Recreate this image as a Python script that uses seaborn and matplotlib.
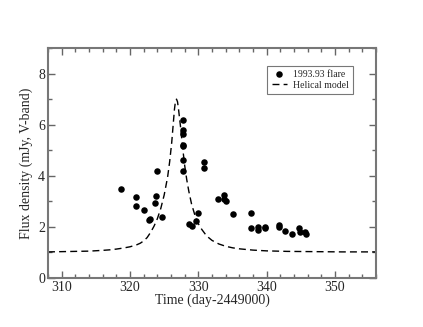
import numpy as np
import pandas as pd
import seaborn as sns
import matplotlib
matplotlib.use("Agg")
import matplotlib.pyplot as plt
from matplotlib.ticker import MultipleLocator

# observed flare points (day-2449000, mJy)
obs_day = [318.7, 320.9, 320.9, 322.0, 322.8, 322.9, 323.8, 323.7, 323.9, 324.7,
           327.7, 327.7, 327.7, 327.7, 327.8, 327.8, 327.8, 328.7, 329.0, 329.7,
           329.9, 330.8, 330.8, 332.9, 333.8, 333.8, 334.0, 335.0, 337.7, 337.7,
           338.7, 338.7, 339.8, 339.8, 341.8, 341.8, 342.7, 343.7, 344.7, 344.8,
           345.6, 345.7]
obs_flux = [3.48, 3.16, 2.80, 2.67, 2.25, 2.31, 3.20, 2.93, 4.19, 2.40,
            6.18, 5.81, 5.63, 5.22, 5.18, 4.61, 4.18, 2.12, 2.03, 2.24,
            2.53, 4.53, 4.29, 3.09, 3.26, 3.09, 3.03, 2.49, 2.56, 1.97,
            1.99, 1.86, 1.99, 1.95, 2.06, 1.98, 1.85, 1.72, 1.97, 1.80,
            1.81, 1.71]

# helical model curve
model_day = [308, 310, 312, 314, 316, 317, 318, 319, 320, 321, 321.5, 322,
             322.5, 323, 323.5, 324, 324.5, 325, 325.5, 325.8, 326.1, 326.3,
             326.5, 326.65, 326.8, 326.95, 327.1, 327.4, 327.7, 328.0, 328.3, 328.6,
             329, 329.5, 330, 330.5, 331, 331.5, 332, 333, 334, 335, 336, 338,
             340, 343, 347, 351, 356]
model_flux = [1.02, 1.03, 1.04, 1.05, 1.08, 1.10, 1.13, 1.17, 1.22, 1.30, 1.36,
              1.45, 1.58, 1.78, 2.02, 2.32, 2.72, 3.25, 3.95, 4.55, 5.3, 5.95,
              6.6, 6.92, 7.0, 6.9, 6.6, 5.9, 5.1, 4.4, 3.85, 3.4,
              2.9, 2.45, 2.12, 1.9, 1.72, 1.58, 1.47, 1.33, 1.24, 1.18, 1.14, 1.09,
              1.06, 1.04, 1.03, 1.02, 1.02]

obs = pd.DataFrame({"day": obs_day, "flux": obs_flux})
model = pd.DataFrame({"day": model_day, "flux": model_flux})

sns.set_style("ticks")
plt.rcParams["font.family"] = ["Liberation Serif", "DejaVu Serif"]

fig = plt.figure(figsize=(4.23, 3.27), dpi=100)
ax = fig.add_axes([0.1135, 0.15, 0.7755, 0.703])

sns.scatterplot(data=obs, x="day", y="flux", ax=ax, color="black", s=22,
                edgecolor="black", linewidth=0, label="1993.93 flare", zorder=3)
sns.lineplot(data=model, x="day", y="flux", ax=ax, color="black", lw=1.0,
             dashes=(5, 3), label="Helical model")

ax.set_xlim(308, 356)
ax.set_ylim(0, 9)
ax.xaxis.set_major_locator(MultipleLocator(10))
ax.xaxis.set_minor_locator(MultipleLocator(2))
ax.yaxis.set_major_locator(MultipleLocator(2))
ax.yaxis.set_minor_locator(MultipleLocator(1))
ax.tick_params(which="both", direction="in", top=True, right=True,
               color="#666666", labelsize=10, pad=2)
ax.tick_params(which="major", length=5, width=1)
ax.tick_params(which="minor", length=3, width=1)
for sp in ax.spines.values():
    sp.set_color("#777777")
    sp.set_linewidth(1.5)

ax.set_xlabel("Time (day-2449000)", fontsize=10, labelpad=0)
ax.set_ylabel("Flux density (mJy, V-band)", fontsize=10, labelpad=4)

leg = ax.legend(loc="upper right", bbox_to_anchor=(0.945, 0.945), fontsize=7,
                frameon=True, fancybox=False, handlelength=1.6,
                borderpad=0.45, labelspacing=0.2, handletextpad=0.6)
leg.get_frame().set_edgecolor("#555555")
leg.get_frame().set_linewidth(0.8)

fig.savefig("out.png", dpi=100)
